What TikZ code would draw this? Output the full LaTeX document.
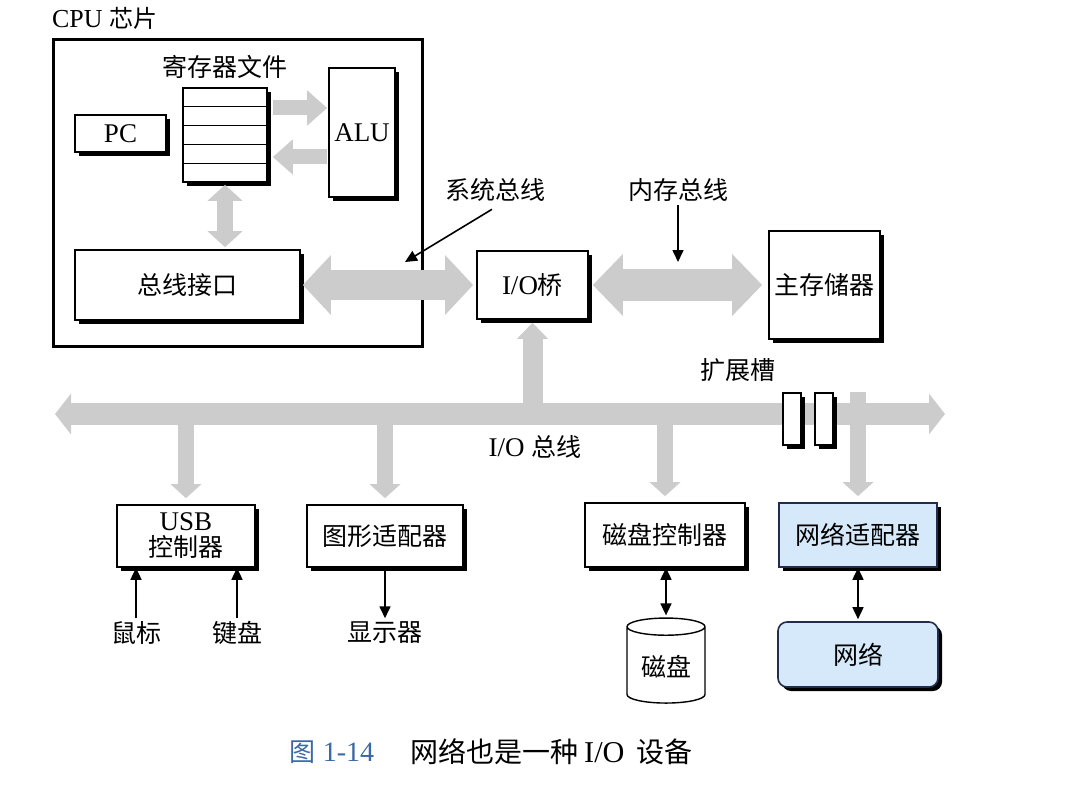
\documentclass[tikz,border=0pt]{standalone}
\usepackage{fontspec}
\setmainfont{Liberation Serif}[Scale=1.08]
\newfontfamily\cjk{Noto Sans CJK SC}
\newcommand\zh[1]{{\cjk #1}}
\usetikzlibrary{arrows.meta,shapes.geometric,shadows,calc,positioning}

\definecolor{busgray}{RGB}{204,204,204}
\definecolor{netblue}{RGB}{214,233,250}
\definecolor{netline}{RGB}{35,45,75}
\definecolor{capblue}{RGB}{60,105,165}

\tikzset{
  box/.style={
    draw,
    line width=1.6pt,
    fill=white,
    drop shadow={shadow xshift=4pt, shadow yshift=-4pt, opacity=1, fill=black}
  },
  bluebox/.style={box, fill=netblue, draw=netline},
  fatbus/.style={draw=busgray, line width=#1},
  ptr/.style={line width=1.6pt, -{Triangle[length=12pt,width=11pt]}},
  dptr/.style={line width=1.6pt, {Triangle[length=12pt,width=11pt]}-{Triangle[length=12pt,width=11pt]}},
}

\begin{document}
\begin{tikzpicture}[x=1pt, y=-1pt, font=\fontsize{25}{29}\selectfont]

  \useasboundingbox (0,0) rectangle (1080,789);

  % Chip CPU
  \node[draw, line width=3pt, minimum width=369pt, minimum height=306pt]
    (cpu) at (237.5,193) {};
  \node[anchor=west, inner xsep=0pt, font=\fontsize{24}{28}\selectfont]
    (cpulbl) at (52,18) {CPU \zh{芯片}};

  \node[box, minimum width=91pt, minimum height=37pt]
    (pc) at (120.5,133.5) {PC};

  \node[box, minimum width=84pt, minimum height=94pt]
    (regs) at (225,135) {};
  \foreach \i in {1,...,4}
    \draw[line width=1.2pt]
      ($(regs.north west)!\i/5!(regs.south west)$) --
      ($(regs.north east)!\i/5!(regs.south east)$);
  \node (regslbl) at (225,67) {\zh{寄存器文件}};

  \node[box, minimum width=66pt, minimum height=129pt]
    (alu) at (362,132.5) {ALU};

  \node[box, minimum width=225pt, minimum height=70pt]
    (busif) at (187.5,285) {\zh{总线接口}};

  % Puente y memoria
  \node[box, minimum width=111pt, minimum height=68pt]
    (bridge) at (532.5,285) {I/O\zh{桥}};
  \node[box, minimum width=111pt, minimum height=108pt]
    (mem) at (824.5,285) {\zh{主存储器}};

  % Flechas gruesas de la CPU
  \draw[fatbus=15pt, -{Triangle[length=20pt,width=34pt]}]
    ([shift={(5,-27)}]regs.east) -- ([shift={(-1,-24.5)}]alu.west);
  \draw[fatbus=15pt, -{Triangle[length=20pt,width=34pt]}]
    ([shift={(-1,24.5)}]alu.west) -- ([shift={(5,22)}]regs.east);
  \draw[fatbus=16pt,
    {Triangle[length=16pt,width=34pt]}-{Triangle[length=16pt,width=34pt]},
    shorten <=2pt, shorten >=2pt]
    (regs.south) -- (regs.south |- busif.north);

  % Bus del sistema y bus de memoria
  \draw[fatbus=30pt,
    {Triangle[length=28pt,width=58pt]}-{Triangle[length=28pt,width=58pt]},
    shorten <=2pt, shorten >=3pt]
    (busif.east) -- (bridge.west);
  \draw[fatbus=32pt,
    {Triangle[length=30pt,width=60pt]}-{Triangle[length=30pt,width=60pt]},
    shorten <=4pt, shorten >=6pt]
    (bridge.east) -- (mem.west);

  \node (sysbus) at (495,190) {\zh{系统总线}};
  \coordinate (sysbustip) at (405,262);
  \draw[ptr] ([shift={(-3,4)}]sysbus.south) -- (sysbustip);

  \node (membus) at (678,190) {\zh{内存总线}};
  \coordinate (membustip) at (678,262);
  \draw[ptr] (membus.south) -- (membustip);

  % Bus de E/S
  \coordinate (busL) at (55,414);
  \coordinate (busR) at (945,414);
  \draw[fatbus=22pt,
    {Triangle[length=16pt,width=40pt]}-{Triangle[length=16pt,width=40pt]}]
    (busL) -- (busR);
  \draw[fatbus=20pt, -{Triangle[length=16pt,width=30pt]}, shorten >=3pt]
    (bridge.south |- busL) -- (bridge.south);

  \node (iobuslbl) at (535,447) {I/O \zh{总线}};

  % Ranuras de expansion
  \node[box, line width=1.4pt, minimum width=18pt, minimum height=52pt]
    (slota) at (792,419) {};
  \node[box, line width=1.4pt, minimum width=18pt, minimum height=52pt]
    (slotb) at (824,419) {};
  \node (slotlbl) at (738,370) {\zh{扩展槽}};

  % Dispositivos
  \node[box, align=center, minimum width=138pt, minimum height=62pt,
    font=\fontsize{25}{26}\selectfont]
    (usb) at (186,536) {USB\\\zh{控制器}};
  \node[box, minimum width=156pt, minimum height=62pt]
    (gfx) at (385,536) {\zh{图形适配器}};
  \node[box, minimum width=160pt, minimum height=64pt]
    (dskc) at (665,535) {\zh{磁盘控制器}};
  \node[bluebox, minimum width=158pt, minimum height=64pt]
    (netad) at (858,535) {\zh{网络适配器}};

  \foreach \dev in {usb,gfx,dskc}
    \draw[fatbus=16pt, -{Triangle[length=14pt,width=30pt]}, shorten >=6pt]
      (\dev.north |- busL) -- (\dev.north);
  \draw[fatbus=16pt, -{Triangle[length=14pt,width=30pt]}, shorten >=6pt]
    (slotb.north -| netad.north) -- (netad.north);

  % Perifericos
  \node (mouse) at (136,633) {\zh{鼠标}};
  \node (kbd) at (237,633) {\zh{键盘}};
  \node (disp) at (385,633) {\zh{显示器}};
  \draw[ptr] (mouse.north) -- (mouse.north |- usb.south);
  \draw[ptr] (kbd.north) -- (kbd.north |- usb.south);
  \draw[ptr] (gfx.south) -- (disp.north);

  \node[cylinder, shape border rotate=90, draw, line width=1.4pt, fill=white,
    aspect=0.3, minimum width=78pt, minimum height=85pt]
    (disk) at (666,667) {\zh{磁盘}};
  \draw[dptr, shorten >=2pt] (dskc.south -| disk.north) -- (disk.north);

  \node[bluebox, rounded corners=9pt, minimum width=160pt, minimum height=65pt]
    (net) at (858,654.5) {\zh{网络}};
  \draw[dptr, shorten >=2pt] (netad.south) -- (net.north);

  % Leyenda
  \node[capblue, font=\fontsize{26}{30}\selectfont]
    (figno) at (332,752) {\zh{图} 1-14};
  \node[anchor=west, inner xsep=0pt, font=\fontsize{28}{30}\selectfont]
    (caption) at (410,752)
    {\zh{网络也是一种}\hspace{6pt}I/O\hspace{12pt}\zh{设备}};

\end{tikzpicture}
\end{document}
